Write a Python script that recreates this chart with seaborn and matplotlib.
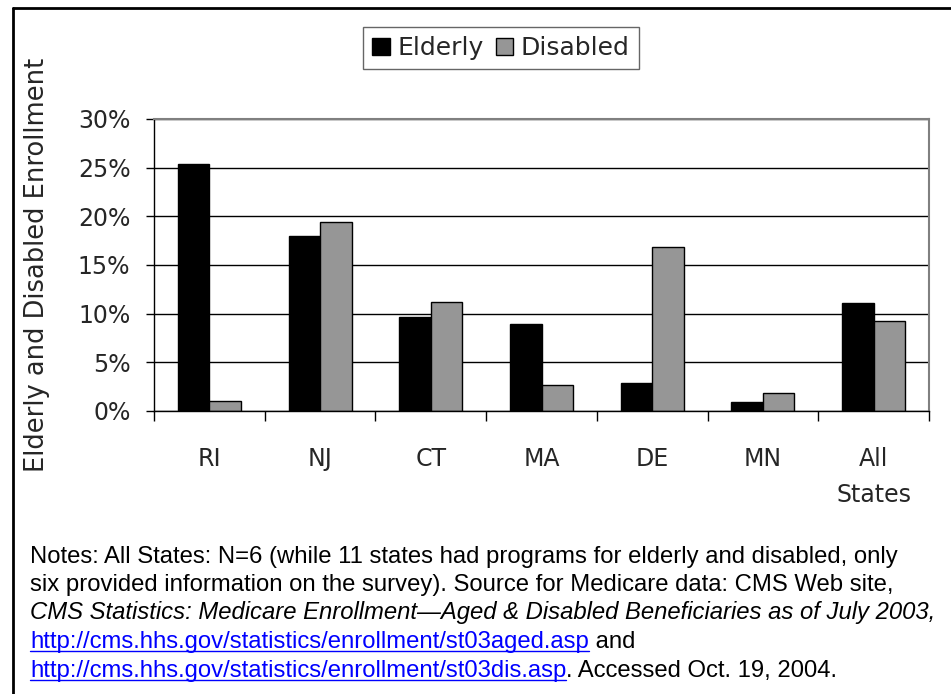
import numpy as np
import pandas as pd
import matplotlib
matplotlib.use("Agg")
import matplotlib.pyplot as plt
import seaborn as sns
from matplotlib.lines import Line2D
from matplotlib.patches import Patch

# values (percent of Medicare enrollment)
states = ["RI", "NJ", "CT", "MA", "DE", "MN", "All\nStates"]
elderly = [25.4, 18.0, 9.7, 8.9, 2.9, 0.9, 11.1]
disabled = [1.0, 19.4, 11.2, 2.7, 16.9, 1.8, 9.2]
groups = ["Elderly", "Disabled"]
yticks = [0, 5, 10, 15, 20, 25, 30]

df = pd.DataFrame({
    "state": states * 2,
    "group": [groups[0]] * len(states) + [groups[1]] * len(states),
    "pct": elderly + disabled,
})

sns.set_style("white")
plt.rcParams["font.family"] = ["DejaVu Sans"]

W, H = 951, 694
fig = plt.figure(figsize=(W / 100, H / 100), dpi=100)
ax = fig.add_axes([154 / W, 1 - 411 / H, 775 / W, 292 / H])

colors = ["black", "#969696"]
sns.barplot(data=df, x="state", y="pct", hue="group", palette=colors,
            width=0.57, edgecolor="black", linewidth=1, saturation=1,
            legend=False, ax=ax)

ax.set_xlim(-0.5, len(states) - 0.5)
ax.set_ylim(0, 30)
ax.set_yticks(yticks)
ax.set_yticklabels([f"{t}%" for t in yticks])
ax.yaxis.grid(True, color="black", linewidth=1)
ax.set_axisbelow(True)

ax.set_xticks(np.arange(-0.5, len(states)), minor=True)
ax.tick_params(axis="x", which="major", length=0, pad=26, labelsize=17)
ax.tick_params(axis="x", which="minor", bottom=True, length=7, width=1,
               color="black", direction="out")
ax.tick_params(axis="y", left=True, length=6, width=1, color="black",
               direction="out", pad=11, labelsize=17)
ax.get_xticklabels()[-1].set_linespacing(1.65)
ax.set_xlabel("")

for side in ["left", "bottom"]:
    ax.spines[side].set_color("black")
    ax.spines[side].set_linewidth(1)
for side in ["top", "right"]:
    ax.spines[side].set_color("#808080")
    ax.spines[side].set_linewidth(1.5)

ax.set_ylabel("Elderly and Disabled Enrollment", fontsize=18.5)
ax.yaxis.set_label_coords(-0.134, 0.5)

handles = [Patch(facecolor=c, edgecolor="black", linewidth=1) for c in colors]
leg = fig.legend(handles, groups, loc="center", ncol=2,
                 bbox_to_anchor=(501 / W, 1 - 48 / H), fontsize=18,
                 frameon=True, fancybox=False, handlelength=0.7,
                 handleheight=0.7, handletextpad=0.3, columnspacing=0.5,
                 borderpad=0.35)
leg.get_frame().set_edgecolor("#404040")
leg.get_frame().set_linewidth(1)

# frame around the figure (only left and top are visible)
fig.add_artist(Line2D([13 / W, 13 / W], [0, 1 - 8 / H], color="black", lw=2))
fig.add_artist(Line2D([13 / W, 1], [1 - 8 / H, 1 - 8 / H], color="black", lw=2))

# notes below the chart
note_lines = [
    [("Notes: All States: N=6 (while 11 states had programs for elderly and disabled, only", "text")],
    [("six provided information on the survey). Source for Medicare data: CMS Web site,", "text")],
    [("CMS Statistics: Medicare Enrollment\u2014Aged & Disabled Beneficiaries as of July 2003,", "italic")],
    [("http://cms.hhs.gov/statistics/enrollment/st03aged.asp", "link"), (" and", "text")],
    [("http://cms.hhs.gov/statistics/enrollment/st03dis.asp", "link"), (". Accessed Oct. 19, 2004.", "text")],
]
renderer = fig.canvas.get_renderer()
baseline = 562.5
for pieces in note_lines:
    x = 30
    for txt, kind in pieces:
        t = fig.text(x / W, 1 - baseline / H, txt, va="baseline", ha="left",
                     family=["Liberation Sans", "DejaVu Sans"], fontsize=17.2,
                     color="#0000ff" if kind == "link" else "black",
                     style="italic" if kind == "italic" else "normal")
        bb = t.get_window_extent(renderer)
        if kind == "link":
            uy = (H - baseline - 3) / H
            fig.add_artist(Line2D([bb.x0 / W, bb.x1 / W], [uy, uy],
                                  color="#0000ff", lw=1))
        x = bb.x1
    baseline += 28.5

fig.savefig("out.png", dpi=100)
